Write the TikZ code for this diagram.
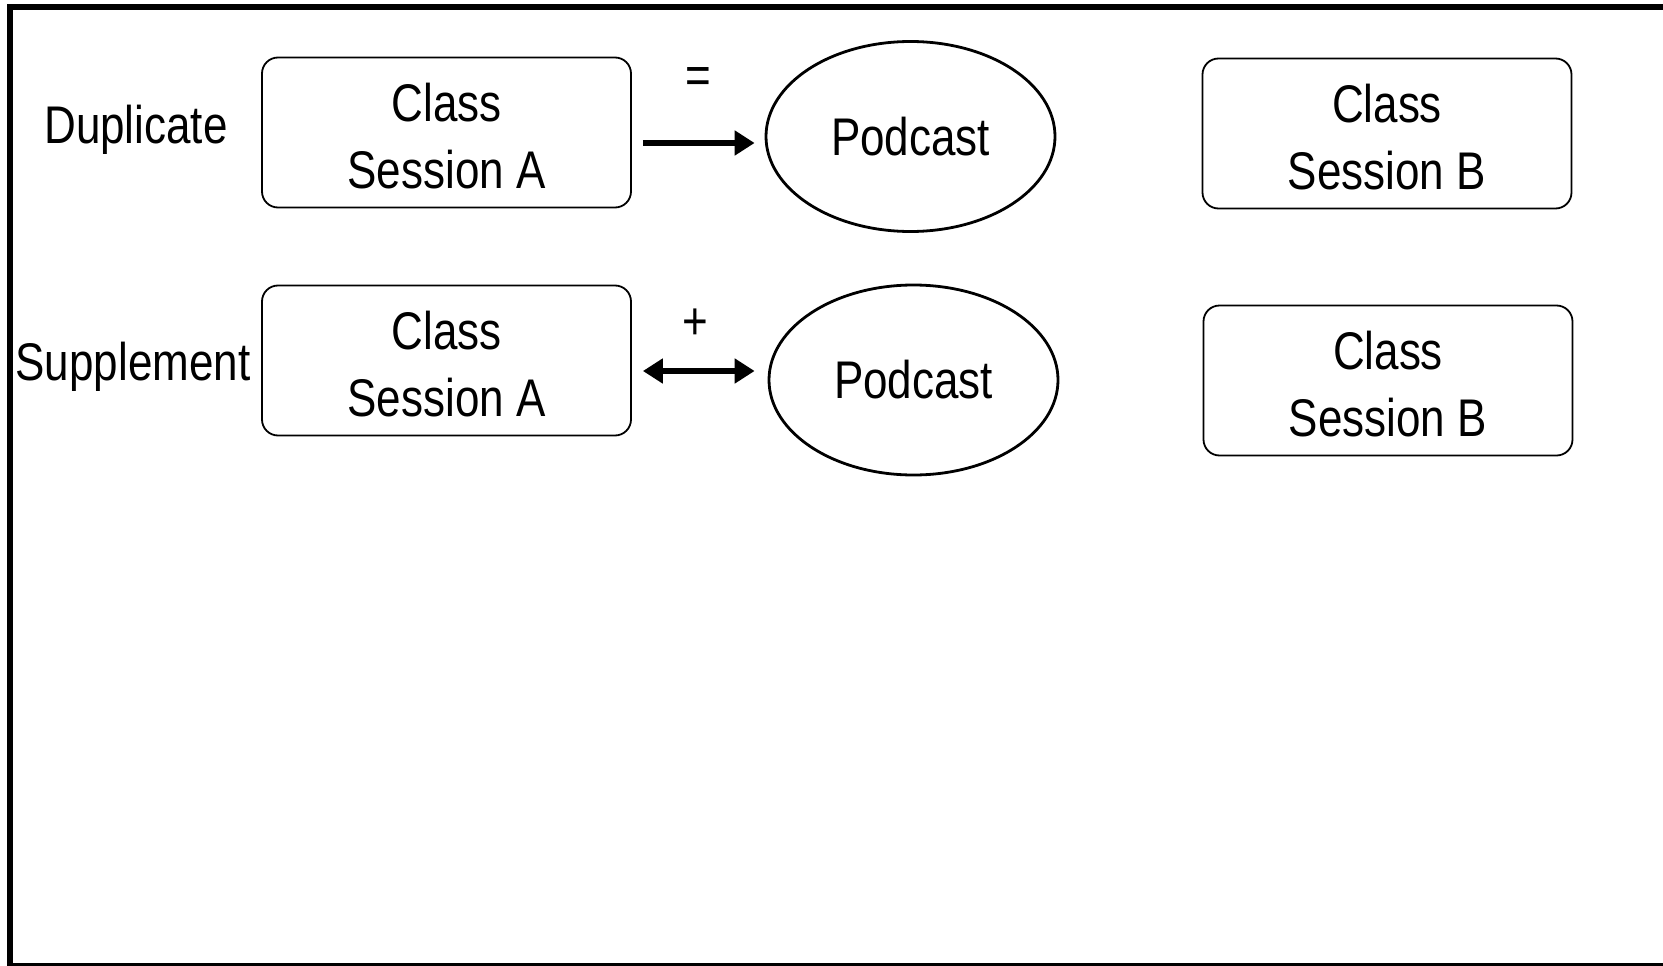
\documentclass[tikz,border=0pt]{standalone}
\usepackage{fontspec}
\setmainfont[FakeStretch=0.83]{Liberation Sans}
\usetikzlibrary{shapes.geometric,arrows.meta,calc}
\begin{document}
\begin{tikzpicture}[x=1pt,y=-1pt,
  txt/.style={font=\fontsize{53}{67}\selectfont, align=center, inner sep=0pt},
  sessbox/.style={draw, line width=1.8pt, rounded corners=16pt, minimum width=369pt, minimum height=150pt, inner sep=0pt},
  inbox/.style={txt, yshift=-4pt},
  pod/.style={txt, draw, ellipse, line width=2.8pt, minimum width=289pt, minimum height=190pt},
  arr/.style={line width=6pt, -{Triangle[length=20pt,width=24pt]}},
  darr/.style={line width=6pt, {Triangle[length=20pt,width=24pt]}-{Triangle[length=20pt,width=24pt]}}
]
\useasboundingbox (0,0) rectangle (1663,966);
\clip (0,0) rectangle (1663,966);
\fill[white] (0,0) rectangle (1663,966);
\draw[line width=6pt] (9.5,7.5) rectangle (1720,966);

% row 1
\node[txt] (dup) at (136,130) {Duplicate};
\node[sessbox, label={[inbox]center:Class\\Session A}] (A1) at (446.5,132.5) {};
\node[pod] (P1) at (910.5,136.5) {Podcast};
\node[sessbox, label={[inbox]center:Class\\Session B}] (B1) at (1387,133.5) {};
\node[txt] (eq) at (698,81) {=};
\draw[arr] ([shift={(11,10.5)}]A1.east) -- ([shift={(-10,6.5)}]P1.west);

% row 2
\node[txt] (sup) at (133,367) {Supplement};
\node[sessbox, label={[inbox]center:Class\\Session A}] (A2) at (446.5,360.5) {};
\node[pod] (P2) at (913.5,380) {Podcast};
\node[sessbox, label={[inbox]center:Class\\Session B}] (B2) at (1388,380.5) {};
\node[txt] (plus) at (695,324) {+};
\draw[darr] ([shift={(11,10.5)}]A2.east) -- ([shift={(-13,-9)}]P2.west);
\end{tikzpicture}
\end{document}
